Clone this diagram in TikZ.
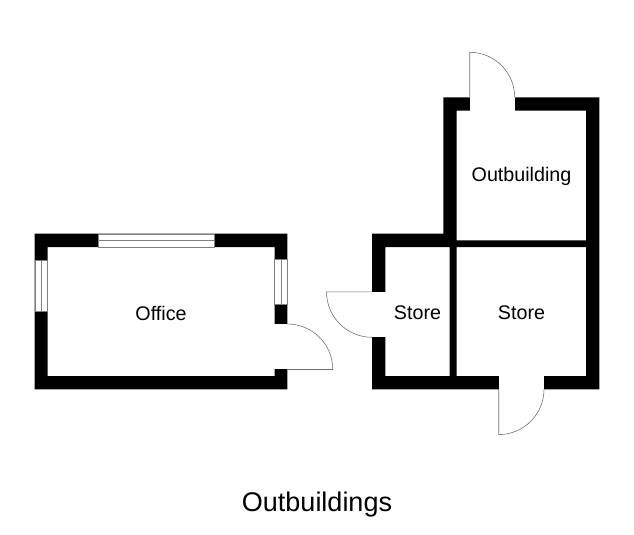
\documentclass[tikz,border=0pt]{standalone}
\usepackage{fontspec}
\setmainfont{Liberation Sans}
\usetikzlibrary{positioning}
\tikzset{
  wall/.style={fill=black,even odd rule},
  gap/.style={fill=white},
  window/.style={fill=white,draw=black!50,line width=0.6pt},
  door/.style={draw=black!55,line width=0.6pt},
  room/.style={font=\fontsize{19.7}{22}\selectfont,inner sep=0pt},
}
\begin{document}
\begin{tikzpicture}[x=1pt,y=-1pt]
\useasboundingbox (0,0) rectangle (634,535);
% walls
\path[wall] (34.5,233.5) rectangle (287.3,389.3)
  (47.7,247) rectangle (274.7,376);
\path[wall] (372,233.7) -- (443.3,233.7) -- (443.3,97.3) -- (599.3,97.3)
  -- (599.3,389.3) -- (372,389.3) -- cycle
  (456.5,110.7) rectangle (586,240.3)
  (385.3,247) rectangle (449.7,376)
  (456.5,247) rectangle (586,376);
% windows
\draw[window] (98.3,233.9) rectangle (214.3,247) (98.3,240.4) -- (214.3,240.4);
\draw[window] (34.9,260.7) rectangle (47.7,311.7) (41.2,260.7) -- (41.2,311.7);
\draw[window] (274.7,259.3) rectangle (287,304.7) (280.9,259.3) -- (280.9,304.7);
% door openings
\fill[gap] (274,324) rectangle (287.8,369.3);
\fill[gap] (371.5,292) rectangle (386,337.3);
\fill[gap] (498.7,375.4) rectangle (544,389.8);
\fill[gap] (469.7,96.8) rectangle (514.7,111.3);
% doors
\draw[door] (287.3,324) arc[start angle=-90,end angle=0,radius=45.5] -- (287.3,369.5);
\draw[door] (372,337.3) arc[start angle=90,end angle=180,radius=45.5] -- (372,291.8);
\draw[door] (544,389.3) arc[start angle=0,end angle=90,radius=45.3] -- (498.7,389.3);
\draw[door] (514.7,97.3) arc[start angle=0,end angle=-90,radius=45] -- (469.7,97.3);
% labels
\node[room] (office) at (161,313) {Office};
\node[room] (storeleft) at (417.5,313) {Store};
\node[room] (storeright) at (521.5,313) {Store};
\node[room] (outbuilding) at (521.5,176.5) {Outbuilding};
\node[font=\fontsize{27}{30}\selectfont,inner sep=0pt] (title) at (317,504.5) {Outbuildings};
\end{tikzpicture}
\end{document}
